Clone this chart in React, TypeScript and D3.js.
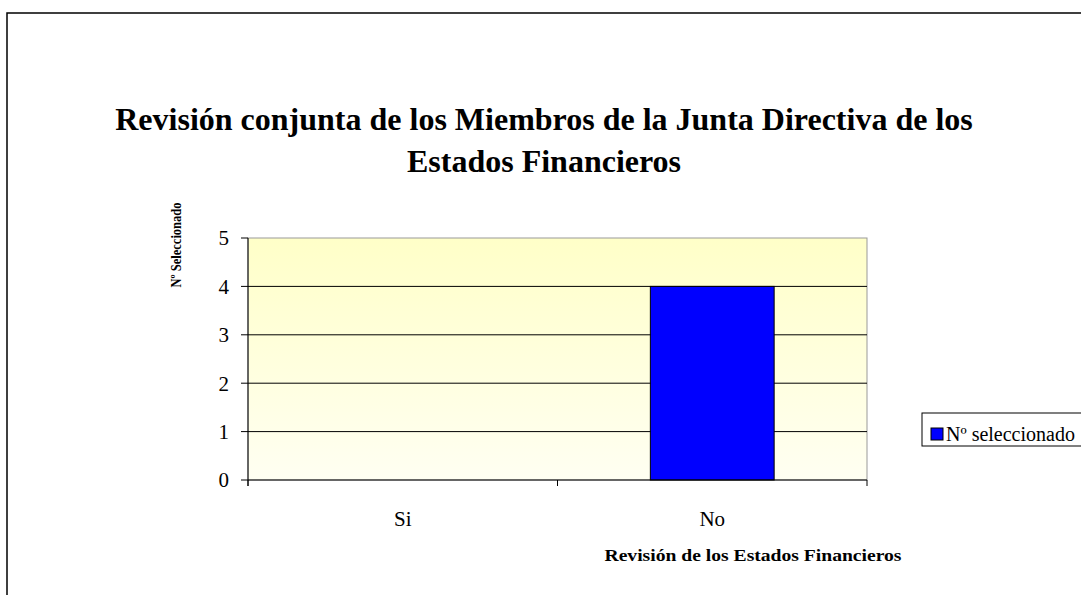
import React from "react";
import * as d3 from "d3";

const categories: string[] = ["Si", "No"];
const values: number[] = [0, 4];
const yTicks: number[] = [0, 1, 2, 3, 4, 5];
const seriesName = "Nº seleccionado";
const titleLines: string[] = [
  "Revisión conjunta de los Miembros de la Junta Directiva de los",
  "Estados Financieros",
];
const xTitle = "Revisión de los Estados Financieros";
const yTitle = "Nº Seleccionado";

const W = 1081;
const H = 595;
const plot = { left: 248, right: 867, top: 238, bottom: 480 };
const FONT = "Liberation Serif";

export default function App() {
  const x = d3
    .scaleBand<string>()
    .domain(categories)
    .range([plot.left, plot.right])
    .paddingInner(0.6)
    .paddingOuter(0.3);
  const band = (plot.right - plot.left) / categories.length;
  const y = d3.scaleLinear().domain([0, 5]).range([plot.bottom, plot.top]);
  const sepTicks = d3.range(categories.length + 1).map((i) => plot.left + i * band);

  return (
    <div style={{ position: "absolute", left: 0, top: 0 }}>
      <svg width={W} height={H} style={{ display: "block" }} fontFamily={FONT}>
        <defs>
          <linearGradient id="bg" x1="0" y1="0" x2="0" y2="1">
            <stop offset="0%" stopColor="#FFFFC8" />
            <stop offset="100%" stopColor="#FFFFF2" />
          </linearGradient>
        </defs>
        <rect x={0} y={0} width={W} height={H} fill="#fff" />
        <rect x={7} y={13} width={W + 20} height={H + 20} fill="none" stroke="#000" strokeWidth={1.5} />

        {titleLines.map((t, i) => (
          <text key={i} x={544} y={130 + i * 42} textAnchor="middle" fontWeight="bold" fontSize={32}>
            {t}
          </text>
        ))}

        <rect x={plot.left} y={plot.top} width={plot.right - plot.left} height={plot.bottom - plot.top} fill="url(#bg)" stroke="#999" strokeWidth={1} />

        {yTicks.filter((t) => t > 0 && t < 5).map((t) => (
          <line key={t} x1={plot.left} x2={plot.right} y1={y(t)} y2={y(t)} stroke="#000" strokeWidth={1} />
        ))}

        {categories.map((c, i) =>
          values[i] > 0 ? (
            <rect key={c} x={x(c)} y={y(values[i])} width={x.bandwidth()} height={y(0) - y(values[i])} fill="#0000FF" stroke="#000" strokeWidth={1} />
          ) : null
        )}

        <line x1={plot.left} x2={plot.left} y1={plot.top} y2={plot.bottom + 6} stroke="#000" strokeWidth={1} />
        <line x1={plot.left} x2={plot.right} y1={plot.bottom} y2={plot.bottom} stroke="#000" strokeWidth={1} />
        {yTicks.map((t) => (
          <g key={t}>
            <line x1={plot.left - 7} x2={plot.left} y1={y(t)} y2={y(t)} stroke="#000" />
            <text x={229} y={y(t)} dy="0.35em" textAnchor="end" fontSize={21}>
              {t}
            </text>
          </g>
        ))}
        {sepTicks.map((sx, i) => (
          <line key={i} x1={sx} x2={sx} y1={plot.bottom} y2={plot.bottom + 6} stroke="#000" />
        ))}
        {categories.map((c) => (
          <text key={c} x={(x(c) as number) + x.bandwidth() / 2} y={526} textAnchor="middle" fontSize={21}>
            {c}
          </text>
        ))}

        <text x={753} y={561} textAnchor="middle" fontWeight="bold" fontSize={16} textLength={297} lengthAdjust="spacingAndGlyphs">
          {xTitle}
        </text>
        <text transform={`translate(181,245) rotate(-90)`} textAnchor="middle" fontWeight="bold" fontSize={15} textLength={85} lengthAdjust="spacingAndGlyphs">
          {yTitle}
        </text>

        <rect x={922} y={413} width={170} height={33} fill="#fff" stroke="#000" strokeWidth={1} />
        <rect x={931} y={428} width={12} height={12} fill="#0000FF" stroke="#000" strokeWidth={1} />
        <text x={946} y={441} fontSize={20}>
          {seriesName}
        </text>
      </svg>
    </div>
  );
}
